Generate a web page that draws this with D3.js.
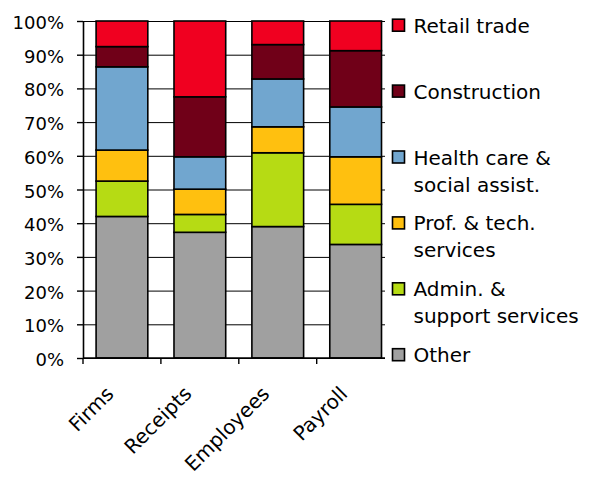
<!DOCTYPE html>
<html>
<head>
<meta charset="utf-8">
<script src="https://cdn.jsdelivr.net/npm/d3@7"></script>
<style>
    body { margin: 0; background: #fff; }
    svg text { font-family: "DejaVu Sans", sans-serif; fill: #000; }
</style>
</head>
<body>
<div id="chart"></div>
<script>
"use strict"

// data (percent of each total)
var categories = ["Firms", "Receipts", "Employees", "Payroll"]
var series_keys = ["Other", "Admin", "Prof", "Health", "Construction", "Retail"]

var other = [42.0, 37.3, 39.0, 33.7]
var admin = [10.5, 5.3, 21.9, 11.9]
var prof = [9.2, 7.5, 7.7, 14.1]
var health = [24.7, 9.6, 14.2, 14.8]
var construction = [6.0, 17.8, 10.2, 16.7]
var retail = [7.6, 22.5, 7.0, 8.8]

var y_ticks = [0, 10, 20, 30, 40, 50, 60, 70, 80, 90, 100]

// legend, top to bottom
var legend_keys = ["Retail", "Construction", "Health", "Prof", "Admin", "Other"]
var legend_labels = [
    ["Retail trade"],
    ["Construction"],
    ["Health care &", "social assist."],
    ["Prof. & tech.", "services"],
    ["Admin. &", "support services"],
    ["Other"]
]

var colors = {
    Retail: "#F00020",
    Construction: "#700018",
    Health: "#71A6CF",
    Prof: "#FFC00F",
    Admin: "#B6DB14",
    Other: "#A0A0A0"
}

var settings = {
    width: 598,
    height: 477,
    left: 83,
    top: 21,
    bottom: 358,
    plot_right: 385,   // gridlines stop here
    band_right: 394.6, // last category band runs under the legend
}

// build rows for d3.stack
var rows = []
for (var i = 0; i < categories.length; i++) {
    rows.push({
        cat: categories[i],
        Other: other[i],
        Admin: admin[i],
        Prof: prof[i],
        Health: health[i],
        Construction: construction[i],
        Retail: retail[i]
    })
}

var stacked = d3.stack().keys(series_keys)(rows)

var svg = d3.select("#chart").append("svg")
    .attr("width", settings.width)
    .attr("height", settings.height)

var x = d3.scaleBand()
    .domain(categories)
    .range([settings.left, settings.band_right])
    .paddingInner(0.336)
    .paddingOuter(0.168)

// category boundaries for the tick marks
var x_edge = d3.scaleLinear()
    .domain([0, categories.length])
    .range([settings.left, settings.band_right])

var y = d3.scaleLinear()
    .domain([0, 100])
    .range([settings.bottom, settings.top])

// gridlines
svg.append("g")
    .attr("class", "grid")
    .attr("transform", "translate(" + settings.left + ",0)")
    .call(d3.axisLeft(y).tickValues(y_ticks).tickSize(-(settings.plot_right - settings.left)).tickFormat(""))
    .call(function (g) { g.select(".domain").remove() })
    .selectAll("line")
    .attr("stroke", "#000")
    .attr("stroke-width", 1)

// bars
svg.append("g")
    .selectAll("g")
    .data(stacked)
    .enter()
    .append("g")
    .attr("fill", function (d) { return colors[d.key] })
    .selectAll("rect")
    .data(function (d) { return d })
    .enter()
    .append("rect")
    .attr("x", function (d) { return x(d.data.cat) })
    .attr("width", x.bandwidth())
    .attr("y", function (d) { return y(d[1]) })
    .attr("height", function (d) { return y(d[0]) - y(d[1]) })
    .attr("stroke", "#000")
    .attr("stroke-width", 1.6)

// y axis
var yaxis = svg.append("g")
    .attr("transform", "translate(" + settings.left + ",0)")
    .call(d3.axisLeft(y).tickValues(y_ticks).tickSize(6).tickSizeOuter(0).tickPadding(13)
        .tickFormat(function (d) { return d + "%" }))
yaxis.select(".domain").attr("stroke", "#000").attr("stroke-width", 1.6)
yaxis.selectAll("line").attr("stroke", "#000").attr("stroke-width", 1.4)
yaxis.selectAll("text")
    .attr("font-size", "18px")
    .attr("dy", "0.42em")

// x axis line and tick marks between categories
svg.append("line")
    .attr("x1", settings.left)
    .attr("x2", settings.plot_right)
    .attr("y1", settings.bottom)
    .attr("y2", settings.bottom)
    .attr("stroke", "#000")
    .attr("stroke-width", 1.6)

svg.append("g")
    .selectAll("line")
    .data(d3.range(categories.length))
    .enter()
    .append("line")
    .attr("x1", function (d) { return x_edge(d) })
    .attr("x2", function (d) { return x_edge(d) })
    .attr("y1", settings.bottom)
    .attr("y2", settings.bottom + 6)
    .attr("stroke", "#000")
    .attr("stroke-width", 1.4)

// rotated category labels
svg.append("g")
    .selectAll("text")
    .data(categories)
    .enter()
    .append("text")
    .attr("transform", function (d) {
        return "translate(" + (x(d) + x.bandwidth() / 2 - 7) + "," + (settings.bottom + 37) + ") rotate(-45)"
    })
    .attr("text-anchor", "end")
    .attr("font-size", "20px")
    .text(function (d) { return d })

// legend
var legend = svg.append("g")
    .attr("transform", "translate(392.5,0)")

var entry = legend.selectAll("g")
    .data(legend_keys)
    .enter()
    .append("g")
    .attr("transform", function (d, i) { return "translate(0," + (32.7 + i * 65.9) + ")" })

entry.append("rect")
    .attr("x", 0)
    .attr("y", -13.5)
    .attr("width", 12)
    .attr("height", 12)
    .attr("fill", function (d) { return colors[d] })
    .attr("stroke", "#000")
    .attr("stroke-width", 1.6)

entry.append("text")
    .attr("x", 21)
    .attr("font-size", "20px")
    .selectAll("tspan")
    .data(function (d, i) { return legend_labels[i] })
    .enter()
    .append("tspan")
    .attr("x", 21)
    .attr("dy", function (d, i) { return i === 0 ? 0 : 27 })
    .text(function (d) { return d })
</script>
</body>
</html>
